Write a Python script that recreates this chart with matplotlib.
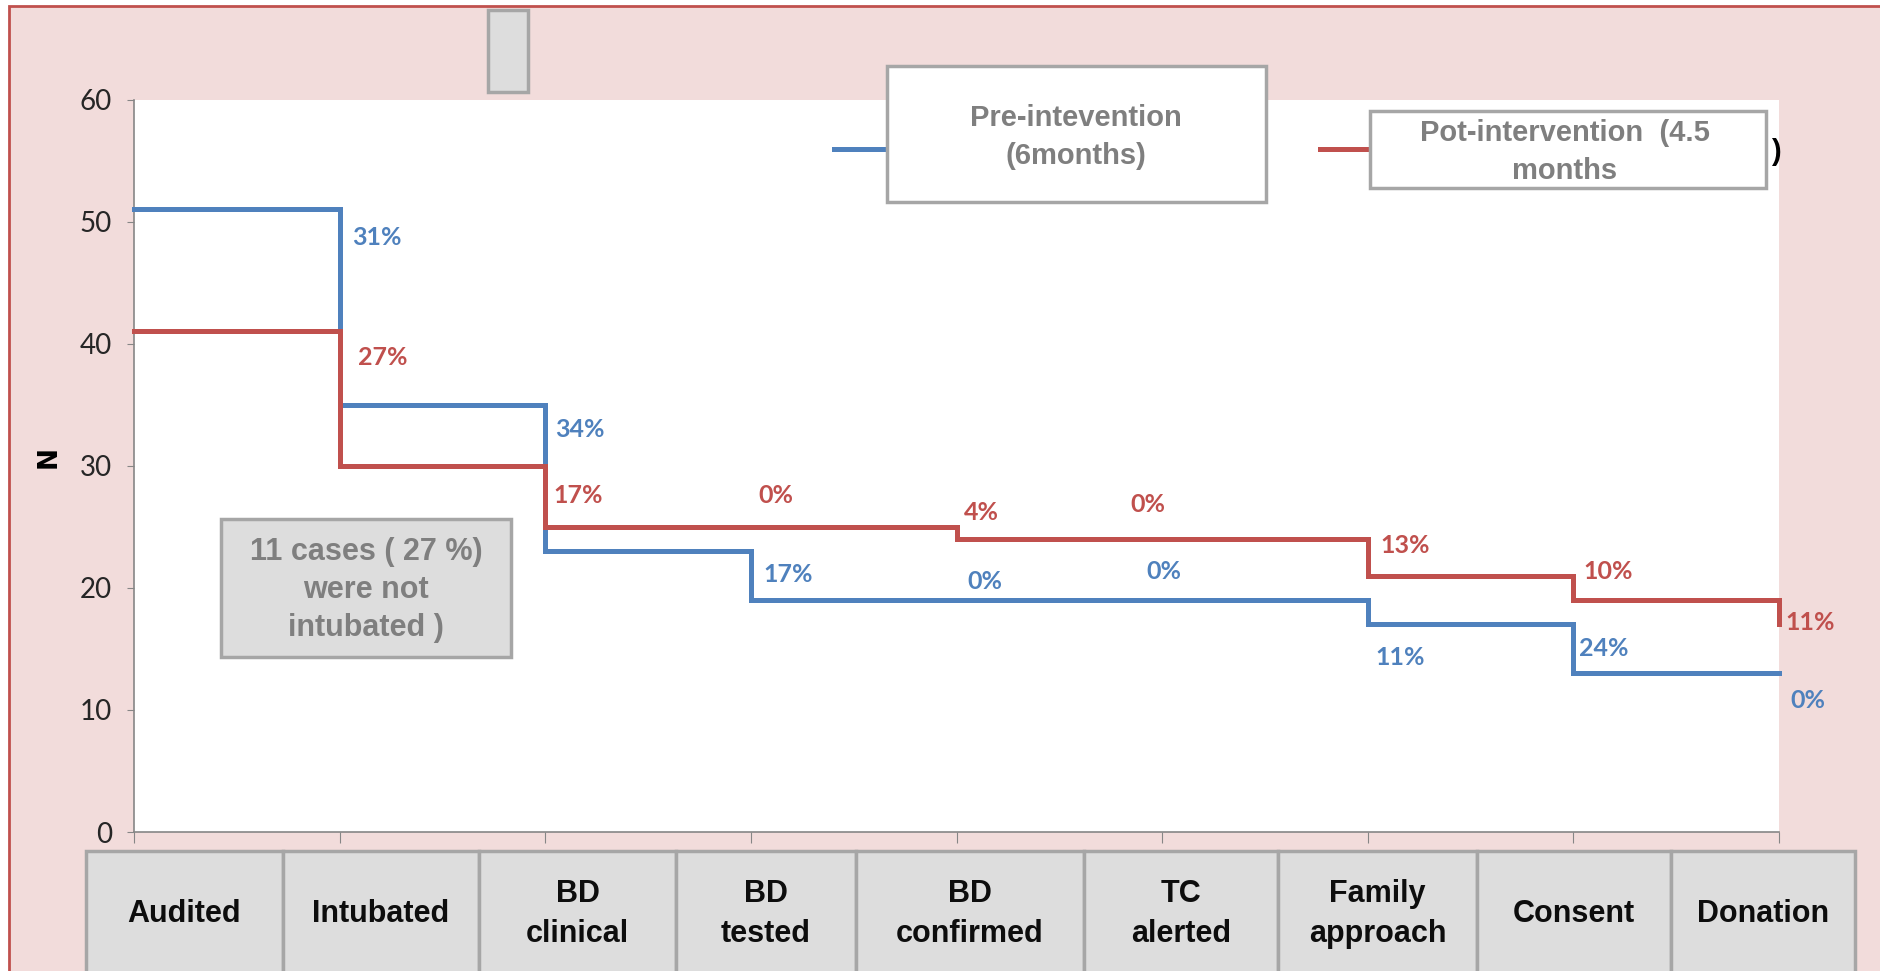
import matplotlib.pyplot as plt
from matplotlib.patches import Rectangle
from matplotlib.lines import Line2D

W, H = 1880, 971

stages = ['Audited', 'Intubated', 'BD\nclinical', 'BD\ntested', 'BD\nconfirmed',
          'TC\nalerted', 'Family\napproach', 'Consent', 'Donation']
pre = [51, 35, 23, 19, 19, 19, 17, 13, 13]
post = [41, 30, 25, 25, 24, 24, 21, 19, 17]
pre_name = 'Pre-intevention\n(6months)'
post_name = 'Pot-intervention  (4.5\nmonths'
note = '11 cases ( 27 %)\nwere not\nintubated )'

blue = '#4F81BD'
red = '#C0504D'
pink = '#F2DCDB'
boxgrey = '#DDDDDD'
edgegrey = '#A6A6A6'
textgrey = '#7F7F7F'

# where the drop labels sit, in data units (one per stage after the first)
pre_lbl = [(1.18, 48.7), (2.17, 33.0), (3.18, 21.1), (4.14, 20.5),
           (5.01, 21.3), (6.16, 14.3), (7.15, 15.0), (8.14, 10.8)]
post_lbl = [(1.21, 38.9), (2.16, 27.6), (3.12, 27.6), (4.12, 26.2),
            (4.93, 26.8), (6.18, 23.5), (7.17, 21.3), (8.15, 17.2)]

# left/right edges of the stage boxes under the axis, in pixels
box_edges = [86, 283, 479, 676, 856, 1084, 1278, 1477, 1671, 1855]


def fx(x):
    return x / W


def fy(y):
    return 1 - y / H


def drops(vals):
    out = []
    for a, b in zip(vals[:-1], vals[1:]):
        out.append('%d%%' % int((a - b) / a * 100 + 0.5))
    return out


fig = plt.figure(figsize=(W / 100, H / 100), dpi=100)
fig.patch.set_facecolor('white')

# pink chart area with red frame
fig.add_artist(Rectangle((fx(9), fy(1100)), 1.5, (1100 - 6) / H,
                         transform=fig.transFigure, facecolor=pink,
                         edgecolor=red, lw=2, zorder=-10))

ax = fig.add_axes([fx(134), fy(832), fx(1779) - fx(134), fy(99.5) - fy(832)])
ax.set_facecolor('white')

x = list(range(len(stages)))
ax.step(x, pre, where='post', color=blue, lw=3.6, clip_on=False,
        solid_joinstyle='miter', zorder=3)
ax.step(x, post, where='post', color=red, lw=3.6, clip_on=False,
        solid_joinstyle='miter', zorder=3)

for (lx, ly), t in zip(pre_lbl, drops(pre)):
    ax.text(lx, ly, t, color=blue, fontsize=18, fontweight='bold',
            family='Lato', ha='center', va='center')
for (lx, ly), t in zip(post_lbl, drops(post)):
    ax.text(lx, ly, t, color=red, fontsize=18, fontweight='bold',
            family='Lato', ha='center', va='center', clip_on=False)

ax.set_xlim(0, 8)
ax.set_ylim(0, 60)
ax.set_yticks(range(0, 61, 10))
ax.set_yticklabels([str(v) for v in range(0, 61, 10)], family='Lato',
                   fontsize=20, color='#262626')
ax.set_xticks(x)
ax.set_xticklabels([])
for s in ['top', 'right']:
    ax.spines[s].set_visible(False)
for s in ['left', 'bottom']:
    ax.spines[s].set_color('#868686')
    ax.spines[s].set_linewidth(1.2)
ax.tick_params(axis='y', length=5, color='#868686', pad=11)
ax.tick_params(axis='x', length=8, color='#868686')

fig.text(fx(49), fy(457), 'N', rotation=90, fontsize=19, fontweight='bold',
         family='DejaVu Sans', ha='center', va='center')


def fig_box(x0, y0, x1, y1, face):
    fig.add_artist(Rectangle((fx(x0), fy(y1)), fx(x1) - fx(x0), fy(y0) - fy(y1),
                             transform=fig.transFigure, facecolor=face,
                             edgecolor=edgegrey, lw=2.5, zorder=5))


# stray grey marker at the top
fig_box(488, 10, 528, 92, boxgrey)

# legend
fig.add_artist(Line2D([fx(834), fx(888)], [fy(149), fy(149)], color=blue,
                      lw=3.6, transform=fig.transFigure, zorder=4))
fig.add_artist(Line2D([fx(1320), fx(1372)], [fy(149), fy(149)], color=red,
                      lw=3.6, transform=fig.transFigure, zorder=4))
fig_box(887, 66, 1266, 202, 'white')
fig_box(1370, 111, 1766, 188, 'white')
fig.text(fx(1076), fy(137), pre_name, color=textgrey, fontsize=21,
         fontweight='bold', family='Liberation Sans', ha='center',
         va='center', linespacing=1.45, zorder=6)
fig.text(fx(1565), fy(152), post_name, color=textgrey, fontsize=21,
         fontweight='bold', family='Liberation Sans', ha='center',
         va='center', linespacing=1.45, zorder=6)
fig.text(fx(1776), fy(152), ')', color='black', fontsize=21,
         fontweight='bold', family='Liberation Sans', ha='center',
         va='center', zorder=6)

# annotation
fig_box(221, 519, 511, 657, boxgrey)
fig.text(fx(366), fy(590), note, color=textgrey, fontsize=22,
         fontweight='bold', family='Liberation Sans', ha='center',
         va='center', linespacing=1.35, zorder=6)

# stage names in boxes below the axis
for name, a, b in zip(stages, box_edges[:-1], box_edges[1:]):
    fig_box(a, 851, b, 1000, boxgrey)
    fig.text(fx((a + b) / 2), fy(914), name, color='#0D0D0D', fontsize=22,
             fontweight='bold', family='Liberation Sans', ha='center',
             va='center', linespacing=1.4, zorder=6)

fig.savefig('out.png', dpi=100)
